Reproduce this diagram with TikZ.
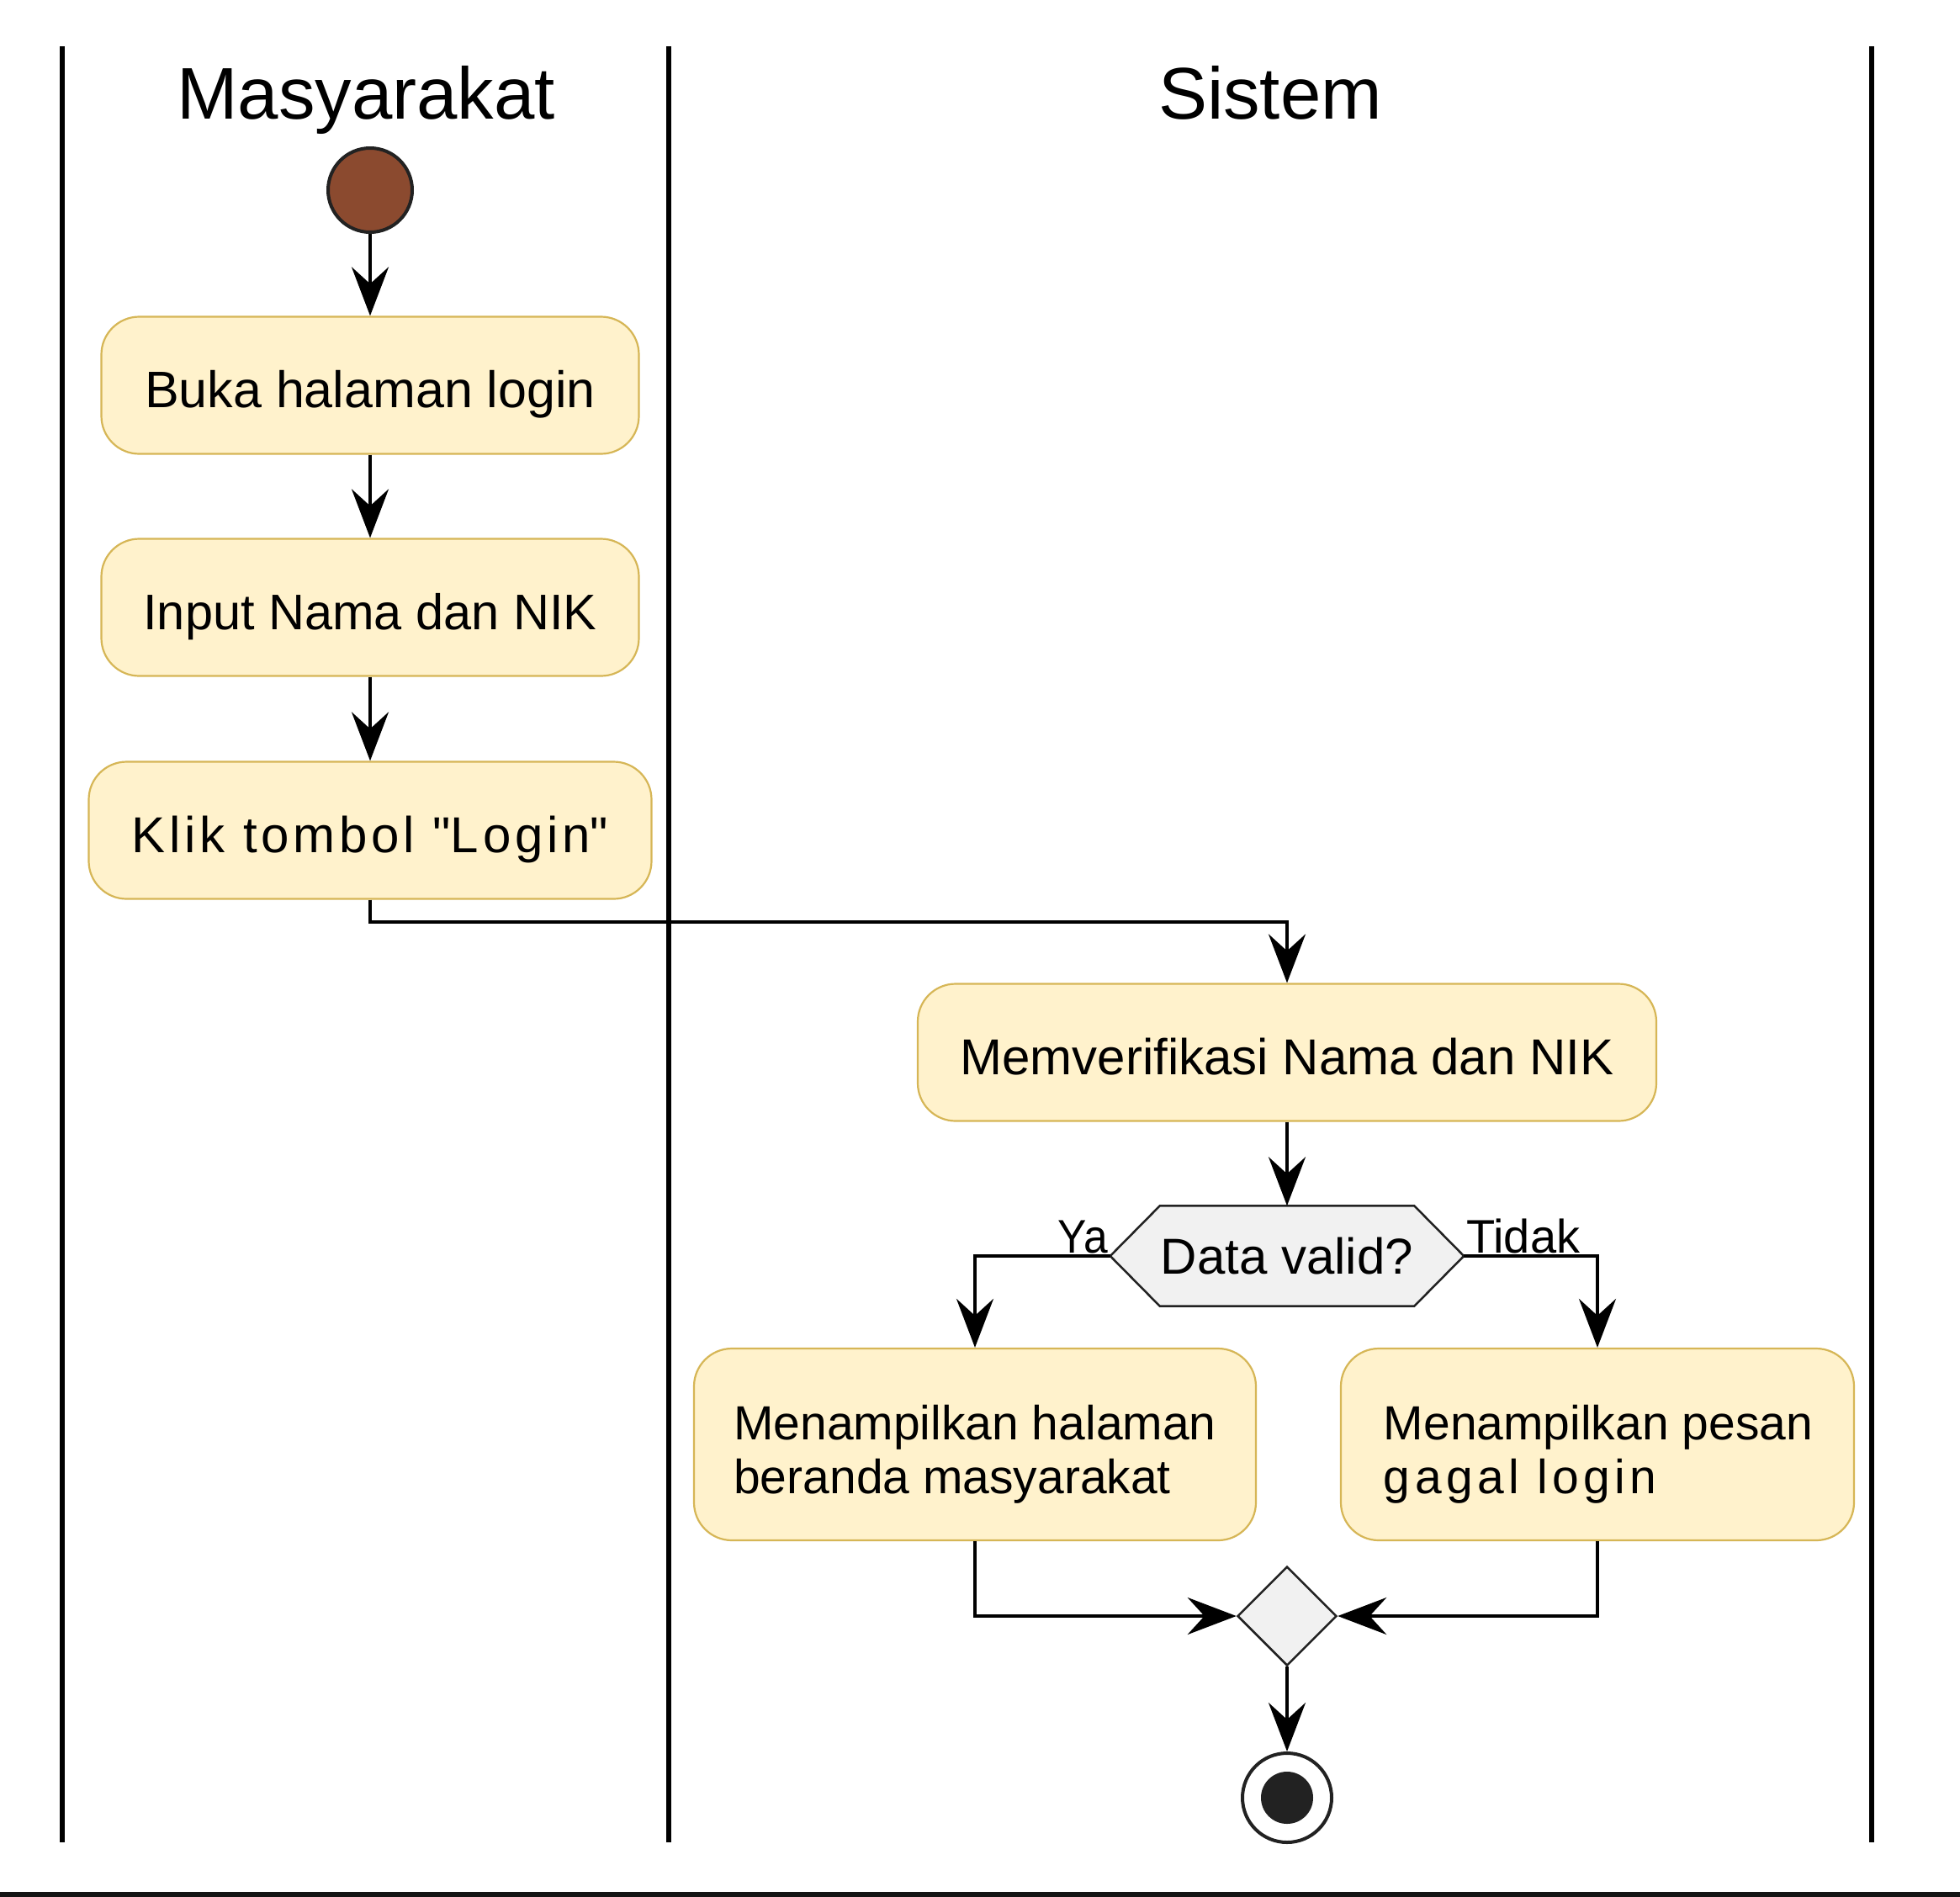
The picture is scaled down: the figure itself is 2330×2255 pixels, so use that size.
\documentclass[tikz,border=0pt]{standalone}
\usepackage{fontspec}
\setmainfont{Liberation Sans}
\usetikzlibrary{arrows.meta,shapes.geometric,calc}
\definecolor{boxfill}{HTML}{FFF2CC}
\definecolor{boxline}{HTML}{D6B656}
\definecolor{startfill}{HTML}{8B4A2F}
\definecolor{dark}{HTML}{222222}
\definecolor{grayfill}{HTML}{F1F1F1}
\tikzset{
  lane/.style={line width=6pt, black},
  titletext/.style={font=\fontsize{87}{92}\selectfont, inner sep=0pt, anchor=base},
  actbox/.style={draw=boxline, fill=boxfill, line width=2.2pt, rounded corners=45pt,
     minimum height=163pt, align=center, inner sep=0pt, text height=62pt, text depth=10pt},
  actbox2/.style={draw=boxline, fill=boxfill, line width=2.2pt, rounded corners=45pt,
     minimum height=228pt, inner sep=0pt},
  boxtext/.style={align=left, inner sep=0pt, font=\fontsize{57}{64}\selectfont},
  flow/.style={line width=4pt, black, -{Stealth[length=58pt, width=44pt, inset=20pt]}},
  lbl/.style={font=\fontsize{56}{60}\selectfont, inner sep=3pt},
  hexline/.style={draw=dark, fill=grayfill, line width=2.5pt},
}
\begin{document}
\begin{tikzpicture}[x=1pt,y=-1pt]
\useasboundingbox (0,0) rectangle (2330,2255);
\fill[white] (0,0) rectangle (2330,2255);
% lanes
\draw[lane] (74,55) -- (74,2190);
\draw[lane] (795,55) -- (795,2190);
\draw[lane] (2225,55) -- (2225,2190);
\draw[line width=6pt, black!92] (0,2252) -- (2330,2252);
\node[titletext] (t1) at (435,141) {Masyarakat};
\node[titletext] (t2) at (1510,141) {Sistem};
% nodes
\node[circle, draw=dark, fill=startfill, line width=4pt, minimum size=100pt, inner sep=0pt] (start) at (440,226) {};
\node[actbox, minimum width=639pt, font=\fontsize{61}{64}\selectfont] (b1) at (440,458) {Buka halaman login};
\node[actbox, minimum width=639pt, font=\fontsize{59.5}{64}\selectfont] (b2) at (440,722) {Input Nama dan NIK};
\node[actbox, minimum width=669pt, font=\fontsize{60}{64}\selectfont\addfontfeature{LetterSpace=8}] (b3) at (440,987) {Klik tombol \textquotedbl Login\textquotedbl};
\node[actbox, minimum width=878pt, font=\fontsize{60}{64}\selectfont] (b4) at (1530,1251) {Memverifikasi Nama dan NIK};
\node[minimum width=420pt, minimum height=119pt, inner sep=0pt] (dec) at (1530,1493) {};
\draw[hexline] ($(dec.north west)+(59,0)$) -- ($(dec.north east)+(-59,0)$) -- (dec.east)
   -- ($(dec.south east)+(-59,0)$) -- ($(dec.south west)+(59,0)$) -- (dec.west) -- cycle;
\node[font=\fontsize{60}{64}\selectfont, inner sep=0pt] (dect) at (dec.center) {Data valid?};
\node[actbox2, minimum width=668pt] (b5) at (1159,1717) {};
\node[boxtext] (b5t) at ($(b5.center)+(0,12)$) {Menampilkan halaman\\beranda masyarakat};
\node[actbox2, minimum width=610pt] (b6) at (1899,1717) {};
\node[boxtext] (b6t) at ($(b6.center)+(1,12)$) {Menampilkan pesan\\{\addfontfeature{LetterSpace=9.5}gagal login}};
\node[diamond, draw=dark, fill=grayfill, line width=2.5pt, minimum width=118pt, minimum height=118pt, inner sep=0pt] (merge) at (1530,1921) {};
\node[circle, draw=dark, fill=white, line width=4pt, minimum size=106pt, inner sep=0pt] (end) at (1530,2137) {};
\fill[dark] (end.center) circle (31);
% edges
\draw[flow] (start) -- (b1);
\draw[flow] (b1) -- (b2);
\draw[flow] (b2) -- (b3);
\draw[flow] (b3.south) -- ++(0,26) -| (b4.north);
\draw[flow] (b4) -- (dec.north);
\draw[flow] (dec.west) -| (b5.north);
\draw[flow] (dec.east) -| (b6.north);
\draw[flow] (b5.south) |- (merge.west);
\draw[flow] (b6.south) |- (merge.east);
\draw[flow] (merge) -- (end);
\node[lbl, anchor=south east, xscale=0.92] (ya) at (dec.west) {Ya};
\node[lbl, anchor=south west] (tidak) at (dec.east) {Tidak};
\end{tikzpicture}
\end{document}
